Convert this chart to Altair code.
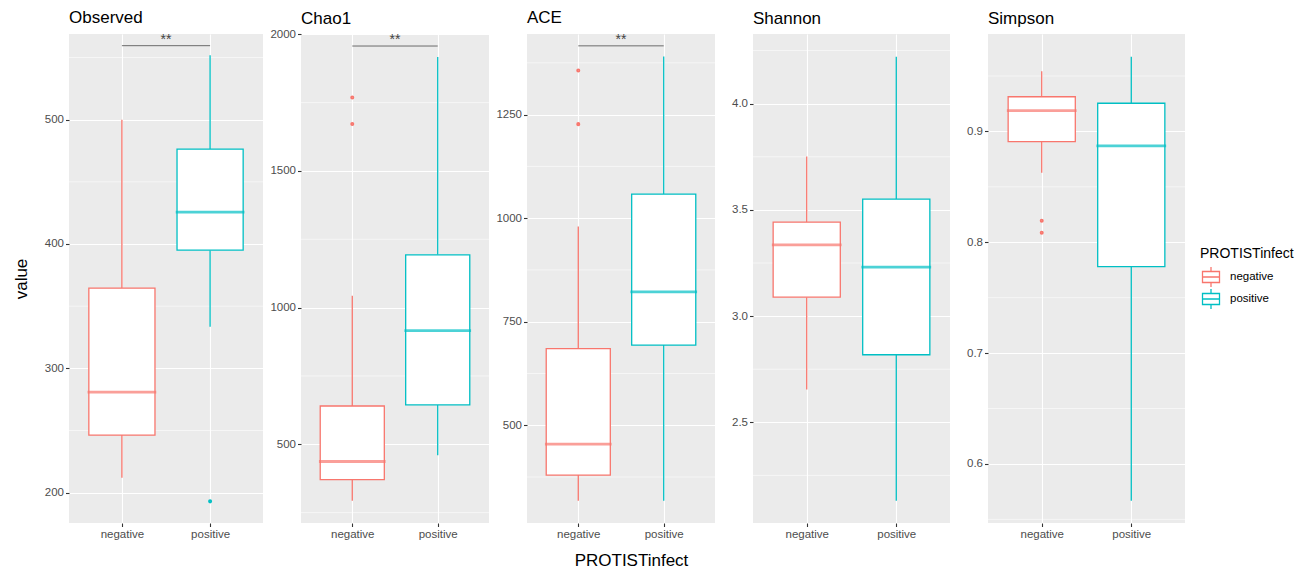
import altair as alt
import pandas as pd

# ---------------- data ----------------
metrics = ["Observed", "Chao1", "ACE", "Shannon", "Simpson"]
groups = ["negative", "positive"]

whisker_low = [[212, 333.4], [293, 460], [318, 318], [2.654, 2.131], [0.8628, 0.5667]]
q1 = [[246.3, 395], [371, 644], [379.6, 693.5], [3.089, 2.818], [0.8908, 0.778]]
median = [[280.9, 425.7], [437, 916], [454.3, 822], [3.335, 3.231], [0.9188, 0.8869]]
q3 = [[364.5, 476.3], [640, 1193], [684.8, 1058], [3.442, 3.551], [0.9313, 0.9254]]
whisker_high = [[500, 551.8], [1043, 1917], [979.7, 1390], [3.751, 4.221], [0.9543, 0.9674]]

outlier_metric = ["Observed", "Chao1", "Chao1", "ACE", "ACE", "Simpson", "Simpson"]
outlier_group = ["positive", "negative", "negative", "negative", "negative", "negative", "negative"]
outlier_value = [193, 1769, 1672, 1356.7, 1227, 0.8194, 0.8085]

sig_metric = ["Observed", "Chao1", "ACE"]
sig_value = [559.5, 1957, 1416]
sig_label = ["**", "**", "**"]

y_domains = [[175.6, 568.9], [212, 2001], [264, 1444.6], [2.026, 4.328], [0.5467, 0.9879]]
major_ticks = [[200, 300, 400, 500], [500, 1000, 1500, 2000], [500, 750, 1000, 1250],
               [2.5, 3.0, 3.5, 4.0], [0.6, 0.7, 0.8, 0.9]]
minor_ticks = [[250, 350, 450, 550], [250, 750, 1250, 1750], [375, 625, 875, 1125, 1375],
               [2.25, 2.75, 3.25, 3.75, 4.25], [0.55, 0.65, 0.75, 0.85, 0.95]]
tick_formats = ["d", "d", "d", ".1f", ".1f"]

# ---------------- styling ----------------
FONT = "Liberation Sans"
COLORS = ["#F8766D", "#00BFC4"]
WIDTHS = [194, 188, 188, 197, 197]
HEIGHT = 489
LBL = "#4D4D4D"
TICK = "#333333"
TITLE_OFFSETS = [6, 0, 6, 6, 6]
LEG_X, LEG_Y = 1131, 213

LEGEND = alt.Legend(
    title="PROTISTinfect", orient="none", legendX=LEG_X, legendY=LEG_Y,
    titleFont=FONT, titleFontSize=14, titleFontWeight="normal", titlePadding=6,
    titleColor="black", labelColor="black",
    labelFont=FONT, labelFontSize=11.5, labelOffset=8,
    symbolSize=400, rowPadding=2, clipHeight=20, symbolOpacity=1,
    symbolType="M-0.85,-0.55H0.85V0.55H-0.85Z M-0.85,0H0.85 M0,-0.55V-1 M0,0.55V1",
    symbolStrokeWidth=1.3, symbolFillColor="white")


def panel(i):
    m = metrics[i]
    w = WIDTHS[i]
    step = w / 2.2
    bw = 0.75 * step

    box = pd.DataFrame({"group": groups, "low": whisker_low[i], "q1": q1[i],
                        "med": median[i], "q3": q3[i], "high": whisker_high[i]})
    out = pd.DataFrame({"metric": outlier_metric, "group": outlier_group, "value": outlier_value})
    out = out[out.metric == m]
    minor = pd.DataFrame({"v": minor_ticks[i]})

    xs = alt.Scale(domain=groups, type="point", padding=0.6)
    ys = alt.Scale(domain=y_domains[i], nice=False, zero=False)

    xaxis = alt.Axis(grid=True, gridColor="white", gridWidth=1.1, domain=False,
                     labelFont=FONT, labelFontSize=11.5, labelColor=LBL, labelPadding=2,
                     tickColor=TICK, tickSize=3.5, tickWidth=1.1, labelAngle=0,
                     titleFont=FONT, titleFontSize=17, titleFontWeight="normal",
                     titleColor="black", titlePadding=12, titleX=w / 2 + 10)
    yaxis = alt.Axis(values=major_ticks[i], format=tick_formats[i], grid=True,
                     gridColor="white", gridWidth=1.1,
                     domain=False, labelFont=FONT, labelFontSize=11.5, labelColor=LBL,
                     labelPadding=2, tickColor=TICK, tickSize=3.5, tickWidth=1.1,
                     titleFont=FONT, titleFontSize=17, titleFontWeight="normal",
                     titleColor="black", titlePadding=14)
    xtitle = "PROTISTinfect" if i == 2 else None
    ytitle = "value" if i == 0 else None

    def X(field="group:N"):
        if xtitle:
            return alt.X(field, scale=xs, axis=xaxis, title=xtitle)
        return alt.X(field, scale=xs, axis=xaxis, title=None)

    def Y(field):
        if ytitle:
            return alt.Y(field, scale=ys, axis=yaxis, title=ytitle)
        return alt.Y(field, scale=ys, axis=yaxis, title=None)

    color = alt.Color("group:N", scale=alt.Scale(domain=groups, range=COLORS), legend=LEGEND)

    layers = []
    layers.append(alt.Chart(minor).mark_rule(color="white", strokeWidth=0.55).encode(
        y=Y("v:Q"), x=alt.value(0), x2=alt.value(w)))
    base = alt.Chart(box)
    layers.append(base.mark_rule(strokeWidth=1.3).encode(x=X(), y=Y("low:Q"), y2="q1:Q", color=color))
    layers.append(base.mark_rule(strokeWidth=1.3).encode(x=X(), y=Y("q3:Q"), y2="high:Q", color=color))
    layers.append(base.mark_bar(size=bw, filled=False, fill="white", strokeWidth=1.3).encode(
        x=X(), y=Y("q1:Q"), y2="q3:Q", color=color))
    layers.append(base.mark_tick(size=bw, thickness=0.2, filled=False, strokeWidth=2.6).encode(
        x=X(), y=Y("med:Q"), color=color))
    if len(out):
        layers.append(alt.Chart(out).mark_point(shape="circle", size=5, filled=False,
                                                strokeWidth=1.8, opacity=1).encode(
            x=X(), y=Y("value:Q"), color=color))
    if m in sig_metric:
        j = sig_metric.index(m)
        sig = pd.DataFrame({"a": [groups[0]], "b": [groups[1]], "y": [sig_value[j]],
                            "t": [sig_label[j]]})
        sb = alt.Chart(sig)
        layers.append(sb.mark_rule(color="#333333", strokeWidth=0.7).encode(
            x=X("a:N"), x2="b:N", y=Y("y:Q")))
        layers.append(sb.mark_text(font=FONT, fontSize=14, color="#444444", dx=step / 2,
                                   baseline="alphabetic", dy=-2).encode(
            x=X("a:N"), y=Y("y:Q"), text="t:N"))

    return alt.layer(*layers).properties(
        width=w, height=HEIGHT,
        title=alt.TitleParams(text=m, anchor="start", frame="group", font=FONT, fontSize=17,
                              fontWeight="normal", color="black", offset=TITLE_OFFSETS[i]))


chart = alt.hconcat(*[panel(i) for i in range(5)], spacing=38, bounds="flush").properties(
    padding={"left": 4, "top": 0, "right": 5, "bottom": 2}
).configure_view(fill="#EBEBEB", strokeWidth=0)

chart.save("out.html", embed_options={"renderer": "svg", "actions": False})
